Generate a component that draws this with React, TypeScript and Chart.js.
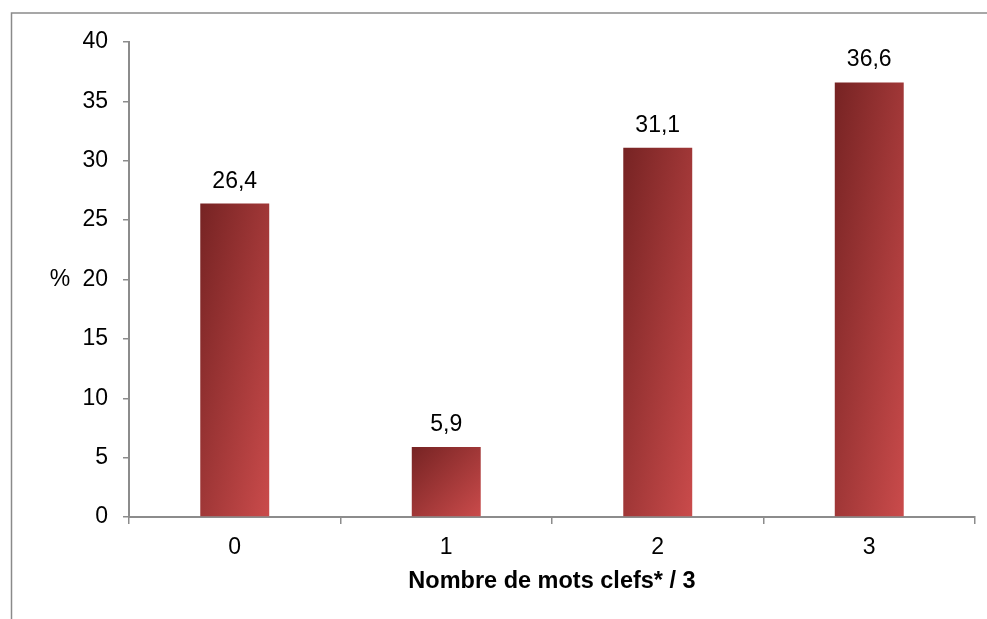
import React, { useEffect, useRef } from "react";
import { Chart, registerables } from "chart.js";

Chart.register(...registerables);

const categories: string[] = ["0", "1", "2", "3"];
const values: number[] = [26.4, 5.9, 31.1, 36.6];
const valueLabels: string[] = ["26,4", "5,9", "31,1", "36,6"];
const yTitle = "%";
const xTitle = "Nombre de mots clefs* / 3";

const FONT = "'Liberation Sans', Arial, sans-serif";
const FS = 23;
const BAR_PCT = 0.326;
const AXIS_COLOR = "#8c8c8c";

export default function App() {
  const ref = useRef<HTMLCanvasElement | null>(null);

  useEffect(() => {
    const canvas = ref.current;
    if (!canvas) return;

    const framePlugin = {
      id: "frame",
      beforeDraw(chart: any) {
        const ctx = chart.ctx;
        ctx.save();
        ctx.strokeStyle = "#8a8a8a";
        ctx.lineWidth = 1.5;
        ctx.beginPath();
        ctx.moveTo(11.5, chart.height);
        ctx.lineTo(11.5, 13);
        ctx.lineTo(chart.width, 13);
        ctx.stroke();
        ctx.restore();
      },
      afterDatasetsDraw(chart: any) {
        const ctx = chart.ctx;
        const meta = chart.getDatasetMeta(0);
        ctx.save();
        ctx.fillStyle = "#000";
        ctx.font = `${FS}px ${FONT}`;
        ctx.textAlign = "center";
        ctx.textBaseline = "alphabetic";
        meta.data.forEach((el: any, i: number) => {
          ctx.fillText(valueLabels[i], el.x, el.y - 16);
        });
        const area = chart.chartArea;
        ctx.textBaseline = "middle";
        ctx.fillText(yTitle, 60, (area.top + area.bottom) / 2);
        ctx.restore();
      },
    };

    const chart = new Chart(canvas, {
      type: "bar",
      data: {
        labels: categories,
        datasets: [
          {
            data: values,
            barPercentage: BAR_PCT,
            categoryPercentage: 1,
            borderWidth: 0,
            backgroundColor: (c: any) => {
              const ch = c.chart;
              const xs = ch.scales?.x;
              const ys = ch.scales?.y;
              if (!xs || !ys || !ch.chartArea) return "#a33a3a";
              const v = c.raw as number;
              const cx = xs.getPixelForValue(c.dataIndex);
              const w = (xs.width / categories.length) * BAR_PCT;
              const top = ys.getPixelForValue(v);
              const base = ys.getPixelForValue(0);
              const h = Math.max(1, base - top);
              const x0 = cx - w / 2;
              const k = (2 * w * h) / (h * h + w * w);
              const g = ch.ctx.createLinearGradient(x0, top, x0 + h * k, top + w * k);
              g.addColorStop(0, "#762323");
              g.addColorStop(1, "#ca4b4b");
              return g;
            },
          },
        ],
      },
      options: {
        animation: false,
        responsive: false,
        maintainAspectRatio: false,
        layout: { padding: { left: 0, right: 12, top: 42, bottom: 0 } },
        plugins: {
          legend: { display: false },
          tooltip: { enabled: false },
          title: { display: false },
        },
        scales: {
          x: {
            offset: true,
            grid: {
              display: true,
              offset: true,
              drawOnChartArea: false,
              drawTicks: true,
              tickLength: 7,
              color: AXIS_COLOR,
              lineWidth: 1.5,
            },
            border: { display: true, color: AXIS_COLOR, width: 2 },
            ticks: {
              color: "#000",
              font: { family: FONT, size: FS },
              padding: 10,
              maxRotation: 0,
            },
            title: {
              display: true,
              text: xTitle,
              color: "#000",
              font: { family: FONT, size: 23.5, weight: "bold" },
              padding: { top: 0, bottom: 23 },
            },
            afterFit: (s: any) => {
              s.height = 102;
            },
          },
          y: {
            min: 0,
            max: 40,
            ticks: {
              stepSize: 5,
              color: "#000",
              font: { family: FONT, size: FS },
              padding: 15,
            },
            grid: {
              display: true,
              drawOnChartArea: false,
              drawTicks: true,
              tickLength: 6,
              color: AXIS_COLOR,
              lineWidth: 1.5,
            },
            border: { display: true, color: AXIS_COLOR, width: 2 },
            afterFit: (s: any) => {
              s.width = 129;
            },
          },
        },
      },
      plugins: [framePlugin],
    });

    return () => chart.destroy();
  }, []);

  return (
    <div style={{ position: "fixed", left: 0, top: 0, width: 987, height: 619, background: "#fff" }}>
      <canvas ref={ref} width={987} height={619} style={{ display: "block", width: 987, height: 619 }} />
    </div>
  );
}
